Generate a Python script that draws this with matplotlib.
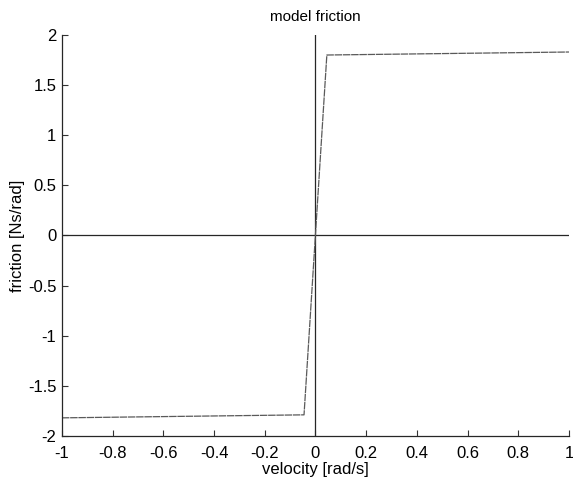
import matplotlib
matplotlib.use("Agg")
import matplotlib.pyplot as plt

plt.rcParams['font.family'] = ['Liberation Sans', 'DejaVu Sans']

# friction model curve (velocity, friction)
velocity = [-1.0, -0.045, 0.045, 1.0]
friction = [-1.82, -1.79, 1.80, 1.83]

xticks = [-1, -0.8, -0.6, -0.4, -0.2, 0, 0.2, 0.4, 0.6, 0.8, 1]
xticklabels = ['-1', '-0.8', '-0.6', '-0.4', '-0.2', '0', '0.2', '0.4', '0.6', '0.8', '1']
yticks = [-2, -1.5, -1, -0.5, 0, 0.5, 1, 1.5, 2]
yticklabels = ['-2', '-1.5', '-1', '-0.5', '0', '0.5', '1', '1.5', '2']

fig = plt.figure(figsize=(5.73, 4.79), dpi=100)
ax = fig.add_axes([0.108, 0.090, 0.885, 0.837])

ax.plot([-1, 1], [0, 0], color='0.15', lw=0.9)
ax.plot([0, 0], [-2, 2], color='0.15', lw=0.9)
ax.plot(velocity, friction, color='0.35', lw=0.9, linestyle=(0, (6, 0.6)))

ax.set_xlim(-1, 1)
ax.set_ylim(-2, 2)
ax.set_xticks(xticks)
ax.set_xticklabels(xticklabels)
ax.set_yticks(yticks)
ax.set_yticklabels(yticklabels)
ax.tick_params(direction='in', length=4, width=0.8, labelsize=12, color='0.2')
ax.tick_params(axis='x', pad=7)
ax.tick_params(axis='y', pad=4)
for s in ['top', 'right']:
    ax.spines[s].set_visible(False)
for s in ['left', 'bottom']:
    ax.spines[s].set_color('0.15')
    ax.spines[s].set_linewidth(0.9)

ax.set_title('model friction', fontsize=11, pad=10)
ax.set_xlabel('velocity [rad/s]', fontsize=12, labelpad=1)
ax.set_ylabel('friction [Ns/rad]', fontsize=12, labelpad=2)

fig.savefig('out.png', dpi=100)
